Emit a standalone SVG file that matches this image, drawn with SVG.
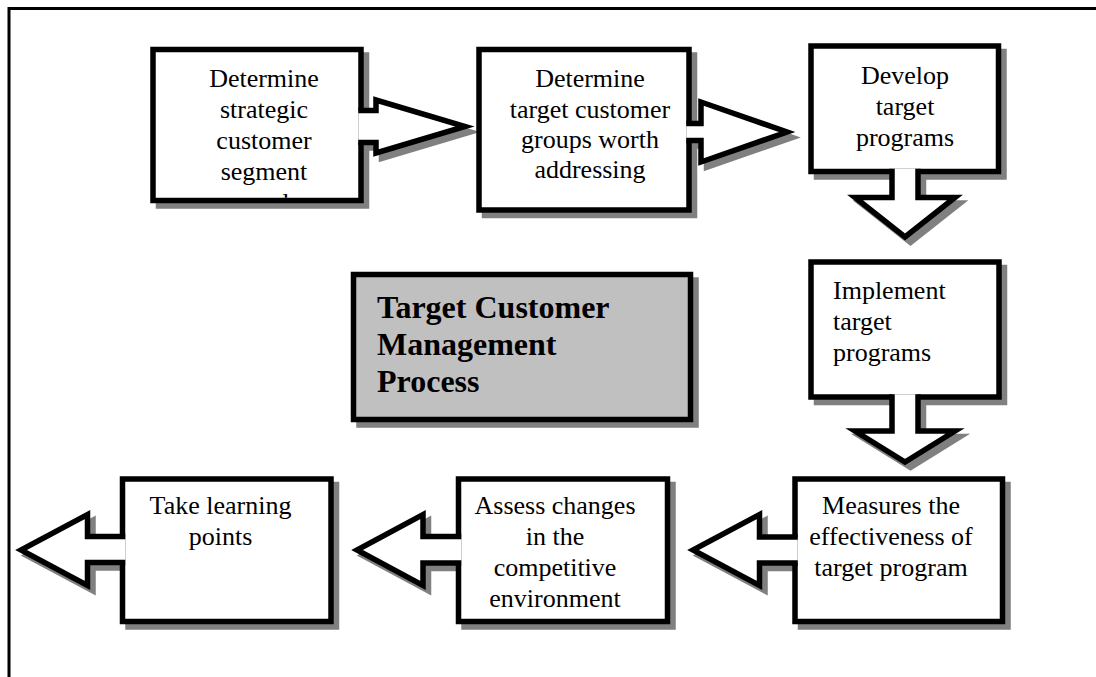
<svg xmlns="http://www.w3.org/2000/svg" width="1096" height="677" viewBox="0 0 1096 677">
  <style>
    .frame { fill: none; stroke: #000; stroke-width: 3; }
    .shadow { fill: #808080; stroke: #808080; stroke-width: 5.5; stroke-linejoin: miter; }
    .box { fill: #fff; stroke: #000; stroke-width: 5.5; stroke-linejoin: miter; }
    .title-box { fill: #c0c0c0; stroke: #000; stroke-width: 5.5; }
    .arrow { fill: #fff; stroke: #000; stroke-width: 5.5; stroke-linejoin: miter; stroke-miterlimit: 10; }
    .shadow-arrow { fill: #808080; stroke: #808080; stroke-width: 5.5; stroke-linejoin: miter; stroke-miterlimit: 10; }
    .label { font-family: "Liberation Serif", "Times New Roman", serif; font-size: 26px; fill: #000; }
    .mid { text-anchor: middle; }
    .title { font-family: "Liberation Serif", "Times New Roman", serif; font-size: 32px; font-weight: bold; fill: #000; }
  </style>
  <defs>
    <clipPath id="clip-segment">
      <rect x="155.75" y="52.25" width="202.5" height="145.5"/>
    </clipPath>
  </defs>

  <!-- outer frame: only the top and left edges fall inside the page -->
  <path class="frame" d="M9,680 V8.5 H1100"/>

  <!-- drop shadows of all shapes -->
  <g id="shadows" transform="translate(5.5,5.5)">
    <rect class="shadow" x="153" y="49.5" width="208" height="151"/>
    <rect class="shadow" x="479" y="49.5" width="210" height="160.5"/>
    <rect class="shadow" x="811" y="46" width="187.5" height="125.5"/>
    <rect class="shadow" x="811" y="262" width="188" height="135"/>
    <rect class="shadow" x="795" y="479" width="207.5" height="142.5"/>
    <rect class="shadow" x="458.5" y="479" width="209" height="142.5"/>
    <rect class="shadow" x="122.5" y="479" width="208.5" height="142.5"/>
    <rect class="shadow" x="353.5" y="274.5" width="337" height="145"/>
    <path class="shadow-arrow" d="M358.25,110.5 H376 V100 L465,126.5 L376,153 V142.5 H358.25"/>
    <path class="shadow-arrow" d="M686.25,123.5 H701 V102 L787,132 L701,162 V140.5 H686.25"/>
    <path class="shadow-arrow" d="M892,168.75 V197.5 H855 L905,237 L955,197.5 H918 V168.75"/>
    <path class="shadow-arrow" d="M892,394.25 V431 H855 L905,462 L955,431 H918 V394.25"/>
    <path class="shadow-arrow" d="M797.75,537 H759.5 V514.5 L693,550 L759.5,585.5 V563 H797.75"/>
    <path class="shadow-arrow" d="M461.25,536.5 H423 V514.5 L357,550 L423,585.5 V563 H461.25"/>
    <path class="shadow-arrow" d="M125.25,536.5 H87.5 V514.5 L21,550 L87.5,585.5 V562.5 H125.25"/>
  </g>

  <g id="node-segment">
    <rect class="box" x="153" y="49.5" width="208" height="151"/>
    <text class="label mid" x="264" y="87.3">Determine</text>
    <text class="label mid" x="264" y="118.3">strategic</text>
    <text class="label mid" x="264" y="149">customer</text>
    <text class="label mid" x="264" y="180">segment</text>
    <text class="label mid" x="270" y="211" clip-path="url(#clip-segment)">and</text>
  </g>

  <g id="node-groups">
    <rect class="box" x="479" y="49.5" width="210" height="160.5"/>
    <text class="label mid" x="590" y="87.3">Determine</text>
    <text class="label mid" x="590" y="117.5">target customer</text>
    <text class="label mid" x="590" y="147.5">groups worth</text>
    <text class="label mid" x="590" y="177.5">addressing</text>
  </g>

  <g id="node-develop">
    <rect class="box" x="811" y="46" width="187.5" height="125.5"/>
    <text class="label mid" x="905" y="84">Develop</text>
    <text class="label mid" x="905" y="115">target</text>
    <text class="label mid" x="905" y="145.5">programs</text>
  </g>

  <g id="node-implement">
    <rect class="box" x="811" y="262" width="188" height="135"/>
    <text class="label" x="833" y="299">Implement</text>
    <text class="label" x="833" y="330">target</text>
    <text class="label" x="833" y="360.5">programs</text>
  </g>

  <g id="node-measure">
    <rect class="box" x="795" y="479" width="207.5" height="142.5"/>
    <text class="label mid" x="891" y="514">Measures the</text>
    <text class="label mid" x="891" y="545">effectiveness of</text>
    <text class="label mid" x="891" y="576">target program</text>
  </g>

  <g id="node-assess">
    <rect class="box" x="458.5" y="479" width="209" height="142.5"/>
    <text class="label mid" x="555" y="514">Assess changes</text>
    <text class="label mid" x="555" y="545">in the</text>
    <text class="label mid" x="555" y="576">competitive</text>
    <text class="label mid" x="555" y="607">environment</text>
  </g>

  <g id="node-learning">
    <rect class="box" x="122.5" y="479" width="208.5" height="142.5"/>
    <text class="label mid" x="220.5" y="514">Take learning</text>
    <text class="label mid" x="220.5" y="545">points</text>
  </g>

  <g id="node-title">
    <rect class="title-box" x="353.5" y="274.5" width="337" height="145"/>
    <text class="title" x="377" y="318">Target Customer</text>
    <text class="title" x="377" y="355">Management</text>
    <text class="title" x="377" y="392">Process</text>
  </g>

  <!-- block arrows leading from one step to the next -->
  <g id="connectors">
    <path class="arrow" d="M358.25,110.5 H376 V100 L465,126.5 L376,153 V142.5 H358.25"/>
    <path class="arrow" d="M686.25,123.5 H701 V102 L787,132 L701,162 V140.5 H686.25"/>
    <path class="arrow" d="M892,168.75 V197.5 H855 L905,237 L955,197.5 H918 V168.75"/>
    <path class="arrow" d="M892,394.25 V431 H855 L905,462 L955,431 H918 V394.25"/>
    <path class="arrow" d="M797.75,537 H759.5 V514.5 L693,550 L759.5,585.5 V563 H797.75"/>
    <path class="arrow" d="M461.25,536.5 H423 V514.5 L357,550 L423,585.5 V563 H461.25"/>
    <path class="arrow" d="M125.25,536.5 H87.5 V514.5 L21,550 L87.5,585.5 V562.5 H125.25"/>
  </g>
</svg>
